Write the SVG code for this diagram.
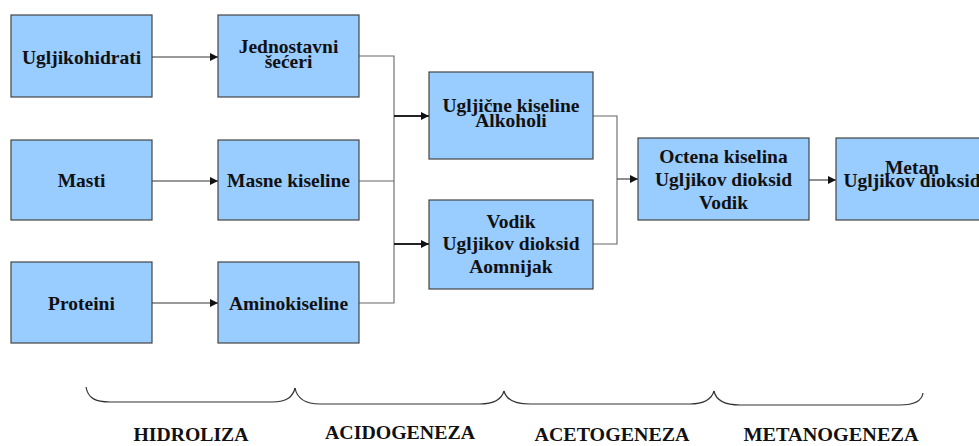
<svg xmlns="http://www.w3.org/2000/svg" width="979" height="446" viewBox="0 0 979 446">
<style>
.box{fill:#99CCFF;stroke:#444;stroke-width:1.2}
.t{font-family:"Liberation Serif","DejaVu Serif","Times New Roman",serif;font-weight:bold;font-size:19.5px;fill:#111;text-anchor:middle}
.lab{font-family:"Liberation Serif","DejaVu Serif","Times New Roman",serif;font-weight:bold;font-size:18px;fill:#111;text-anchor:middle}
.c{fill:none;stroke:#333;stroke-width:1.1}
.g{fill:none;stroke:#666;stroke-width:1.1}
.k{fill:none;stroke:#222;stroke-width:2}
.br{fill:none;stroke:#333;stroke-width:1.2}
</style>
<defs>
<marker id="ah" viewBox="0 0 10 10" refX="10" refY="5" markerWidth="8" markerHeight="8" markerUnits="userSpaceOnUse" orient="auto">
<path d="M0,0 L10,5 L0,10 z" fill="#111"/>
</marker>
</defs>
<rect width="979" height="446" fill="#fff"/>
<g id="connectors">
<path class="c" d="M152,57 H218" marker-end="url(#ah)"/>
<path class="c" d="M152,181 H218" marker-end="url(#ah)"/>
<path class="c" d="M152,303 H218" marker-end="url(#ah)"/>
<path class="g" d="M359,56 H394 V303 H359"/>
<path class="g" d="M359,181 H394"/>
<path class="k" d="M394,116 H429" marker-end="url(#ah)"/>
<path class="k" d="M394,244 H429" marker-end="url(#ah)"/>
<path class="g" d="M593,116 H617 V244 H593"/>
<path class="c" d="M617,179 H638" marker-end="url(#ah)"/>
<path class="c" d="M809,180 H836" marker-end="url(#ah)"/>
</g>
<g id="n-ugljikohidrati"><rect class="box" x="11" y="15" width="141" height="82"/><text class="t" x="81.5" y="64">Ugljikohidrati</text></g>
<g id="n-masti"><rect class="box" x="11" y="140" width="141" height="80"/><text class="t" x="81.5" y="187">Masti</text></g>
<g id="n-proteini"><rect class="box" x="11" y="262" width="141" height="81"/><text class="t" x="81.5" y="310">Proteini</text></g>
<g id="n-jednostavni"><rect class="box" x="218" y="15" width="141" height="82"/><text class="t" x="288.5" y="53">Jednostavni</text><text class="t" x="288.5" y="68">šećeri</text></g>
<g id="n-masne"><rect class="box" x="218" y="140" width="141" height="80"/><text class="t" x="288.5" y="187">Masne kiseline</text></g>
<g id="n-amino"><rect class="box" x="218" y="262" width="141" height="81"/><text class="t" x="288.5" y="310">Aminokiseline</text></g>
<g id="n-uglj-kiseline"><rect class="box" x="429" y="72" width="164" height="87"/><text class="t" x="511" y="112">Ugljične kiseline</text><text class="t" x="511" y="127">Alkoholi</text></g>
<g id="n-vodik"><rect class="box" x="429" y="200" width="164" height="89"/><text class="t" x="511" y="228">Vodik</text><text class="t" x="511" y="250">Ugljikov dioksid</text><text class="t" x="511" y="273">Aomnijak</text></g>
<g id="n-octena"><rect class="box" x="638" y="138" width="171" height="82"/><text class="t" x="723.5" y="163">Octena kiselina</text><text class="t" x="723.5" y="186">Ugljikov dioksid</text><text class="t" x="723.5" y="209">Vodik</text></g>
<g id="n-metan"><rect class="box" x="836" y="138" width="150" height="82"/><text class="t" x="912" y="174">Metan</text><text class="t" x="912" y="187">Ugljikov dioksid</text></g>
<g id="braces">
<path class="br" d="M86,387 C88,398 95,402 110,402 H272 C288,402 293,396 295,388"/>
<path class="br" d="M295,388 C297,398 304,404 320,404 H480 C496,404 502,398 504,391"/>
<path class="br" d="M504,391 C506,399 514,404 530,404 H690 C706,404 712,398 714,391"/>
<path class="br" d="M714,391 C716,400 724,405 740,405 H900 C916,405 922,400 923,393"/>
</g>
<g id="labels">
<text class="lab" x="191" y="441" textLength="115" lengthAdjust="spacingAndGlyphs">HIDROLIZA</text>
<text class="lab" x="400" y="439" textLength="150" lengthAdjust="spacingAndGlyphs">ACIDOGENEZA</text>
<text class="lab" x="612" y="441" textLength="155" lengthAdjust="spacingAndGlyphs">ACETOGENEZA</text>
<text class="lab" x="831" y="441" textLength="175" lengthAdjust="spacingAndGlyphs">METANOGENEZA</text>
</g>
</svg>
